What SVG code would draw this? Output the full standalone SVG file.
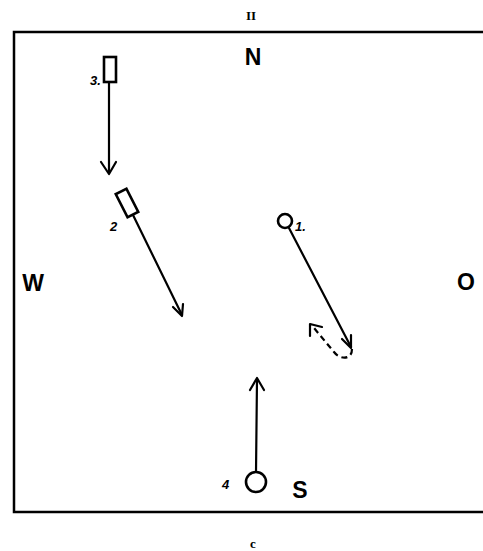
<svg xmlns="http://www.w3.org/2000/svg" width="483" height="551" viewBox="0 0 483 551">
<style>
.frame{fill:none;stroke:#000;stroke-width:2.5}
.ln{fill:none;stroke:#000;stroke-width:2.2;stroke-linecap:round;stroke-linejoin:round}
.dash{fill:none;stroke:#000;stroke-width:2.2;stroke-dasharray:6 4}
.shape{fill:#fff;stroke:#000;stroke-width:2.6}
.big{font-family:"Liberation Sans",Arial,sans-serif;font-size:23px;font-weight:bold;fill:#000}
.sm{font-family:"Liberation Sans",Arial,sans-serif;font-size:13px;fill:#000;font-style:italic;font-weight:bold}
.cap{font-family:"Liberation Serif","Times New Roman",serif;font-size:13px;fill:#000;font-weight:bold}
</style>
<rect width="483" height="551" fill="#fff"/>
<path class="frame" d="M483 32 H14 V512 H483"/>
<text class="cap" x="251" y="20" text-anchor="middle">II</text>
<text class="cap" x="253" y="548" text-anchor="middle" font-weight="normal">c</text>
<text class="big" x="253" y="65" text-anchor="middle" font-weight="normal">N</text>
<text class="big" x="33" y="291" text-anchor="middle">W</text>
<text class="big" x="466" y="290" text-anchor="middle">O</text>
<text class="big" x="300" y="498" text-anchor="middle" font-weight="normal">S</text>
<g id="connectors">
<path class="ln" d="M109 83 L109 173"/>
<path class="ln" d="M101 162 L109 174 L116 162"/>
<path class="ln" d="M133 215 L182 315"/>
<path class="ln" d="M173 307 L182 316 L183 304"/>
<path class="ln" d="M289 228 L351 347"/>
<path class="ln" d="M342 339 L351 348 L351 335"/>
<path class="dash" d="M352 349 C352 360 340 360 334 352 L314 328"/>
<path class="ln" d="M310 336 L310 324 L322 327"/>
<path class="ln" d="M256 472 L257 379"/>
<path class="ln" d="M250 390 L257 378 L264 390"/>
</g>
<g id="node3">
<rect class="shape" x="104" y="57" width="12" height="25"/>
<text class="sm" x="90" y="85" font-style="normal">3.</text>
</g>
<g id="node2">
<rect class="shape" x="-6" y="-13" width="12" height="26" transform="translate(127,203) rotate(-27)"/>
<text class="sm" x="110" y="231">2</text>
</g>
<g id="node1">
<circle class="shape" cx="285" cy="221" r="7"/>
<text class="sm" x="295" y="231">1.</text>
</g>
<g id="node4">
<circle class="shape" cx="256" cy="482" r="10"/>
<text class="sm" x="222" y="489">4</text>
</g>
</svg>
